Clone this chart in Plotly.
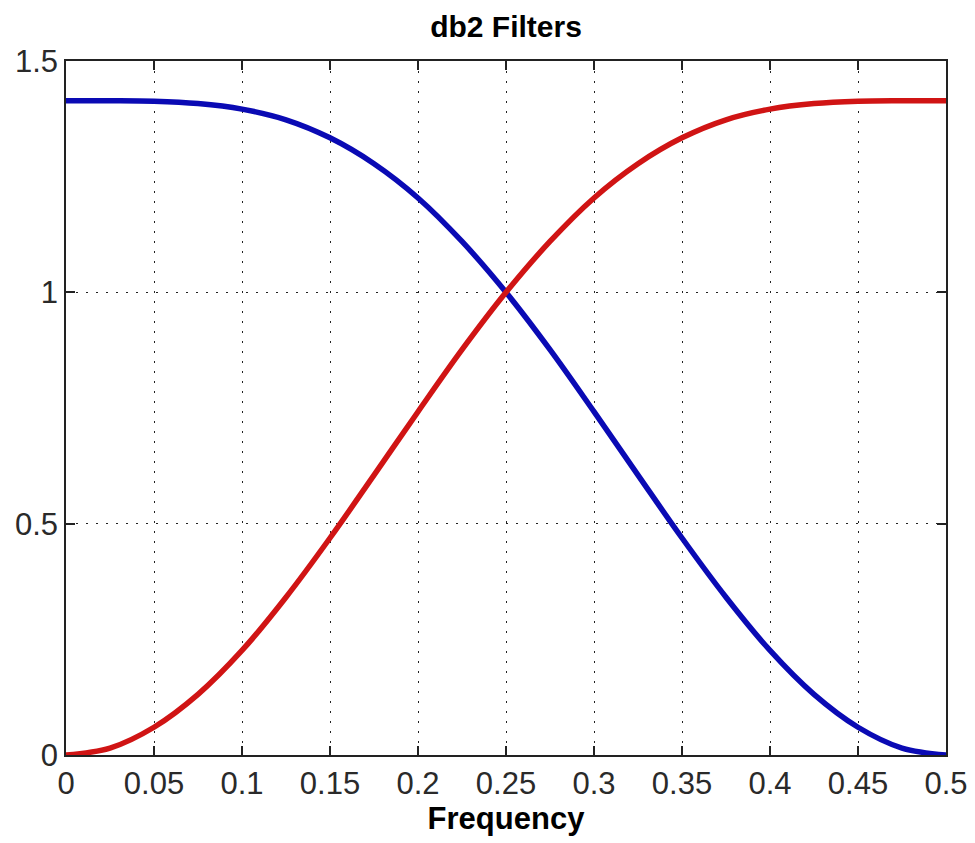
import plotly.graph_objects as go

freq = [0, 0.025, 0.05, 0.075, 0.1, 0.125, 0.15, 0.175, 0.2, 0.225, 0.25,
        0.275, 0.3, 0.325, 0.35, 0.375, 0.4, 0.425, 0.45, 0.475, 0.5]
lowpass = [1.414, 1.414, 1.413, 1.408, 1.396, 1.373, 1.334, 1.278, 1.204, 1.110, 1.000,
           0.876, 0.742, 0.605, 0.469, 0.341, 0.226, 0.131, 0.060, 0.015, 0.0]
highpass = [0.0, 0.015, 0.060, 0.131, 0.226, 0.341, 0.469, 0.605, 0.742, 0.876, 1.000,
            1.110, 1.204, 1.278, 1.334, 1.373, 1.396, 1.408, 1.413, 1.414, 1.414]
x_ticks = [0, 0.05, 0.1, 0.15, 0.2, 0.25, 0.3, 0.35, 0.4, 0.45, 0.5]
x_tick_labels = ["0", "0.05", "0.1", "0.15", "0.2", "0.25", "0.3", "0.35", "0.4", "0.45", "0.5"]
y_ticks = [0, 0.5, 1, 1.5]
y_tick_labels = ["0", "0.5", "1", "1.5"]

FONT = "Liberation Sans, Arial, Helvetica, sans-serif"

fig = go.Figure()
fig.add_trace(go.Scatter(x=freq, y=lowpass, mode="lines",
                         line=dict(color="#0a0ab4", width=5.5, shape="spline"), showlegend=False))
fig.add_trace(go.Scatter(x=freq, y=highpass, mode="lines",
                         line=dict(color="#d01414", width=5.5, shape="spline"), showlegend=False))

axis_common = dict(showline=True, linecolor="#222", linewidth=1.5, mirror="ticks",
                   ticks="inside", ticklen=9, tickcolor="#222", tickwidth=1.5,
                   showgrid=True, gridcolor="#222", gridwidth=1, griddash="2px,8px",
                   zeroline=False, automargin=False,
                   tickfont=dict(family=FONT, size=31, color="#2a2a2a"))

fig.update_xaxes(range=[0, 0.5], tickvals=x_ticks, ticktext=x_tick_labels,
                 title=dict(text="<b>Frequency</b>", font=dict(family=FONT, size=31, color="black"),
                            standoff=2),
                 **axis_common)
fig.update_yaxes(range=[0, 1.5], tickvals=y_ticks, ticktext=y_tick_labels, **axis_common)

fig.update_layout(
    width=975, height=843,
    margin=dict(l=66, r=29, t=61, b=88),
    paper_bgcolor="white", plot_bgcolor="white",
    title=dict(text="<b>db2 Filters</b>", x=0.5, xref="paper", y=1 - 26 / 843, yanchor="middle",
               font=dict(family=FONT, size=30, color="black")),
)

fig.write_html("out.html", config={"displayModeBar": False},
               post_script="document.body.style.margin='0';document.body.style.overflow='hidden';")
